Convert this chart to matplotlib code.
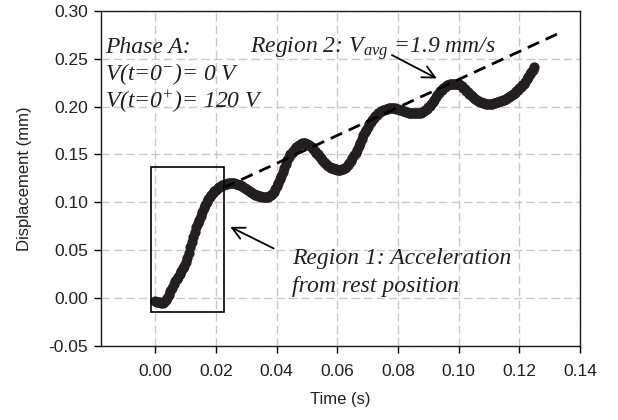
import matplotlib
matplotlib.use("Agg")
import matplotlib.pyplot as plt
from matplotlib.patches import Rectangle

time_s = [
    0.0000, 0.0005, 0.0010, 0.0015, 0.0020, 0.0025, 0.0030, 0.0035, 0.0040, 0.0045,
    0.0050, 0.0055, 0.0060, 0.0065, 0.0070, 0.0075, 0.0080, 0.0085, 0.0090, 0.0095,
    0.0100, 0.0105, 0.0110, 0.0115, 0.0120, 0.0125, 0.0130, 0.0135, 0.0140, 0.0145,
    0.0150, 0.0155, 0.0160, 0.0165, 0.0170, 0.0175, 0.0180, 0.0185, 0.0190, 0.0195,
    0.0200, 0.0205, 0.0210, 0.0215, 0.0220, 0.0225, 0.0230, 0.0235, 0.0240, 0.0245,
    0.0250, 0.0255, 0.0260, 0.0265, 0.0270, 0.0275, 0.0280, 0.0285, 0.0290, 0.0295,
    0.0300, 0.0305, 0.0310, 0.0315, 0.0320, 0.0325, 0.0330, 0.0335, 0.0340, 0.0345,
    0.0350, 0.0355, 0.0360, 0.0365, 0.0370, 0.0375, 0.0380, 0.0385, 0.0390, 0.0395,
    0.0400, 0.0405, 0.0410, 0.0415, 0.0420, 0.0425, 0.0430, 0.0435, 0.0440, 0.0445,
    0.0450, 0.0455, 0.0460, 0.0465, 0.0470, 0.0475, 0.0480, 0.0485, 0.0490, 0.0495,
    0.0500, 0.0505, 0.0510, 0.0515, 0.0520, 0.0525, 0.0530, 0.0535, 0.0540, 0.0545,
    0.0550, 0.0555, 0.0560, 0.0565, 0.0570, 0.0575, 0.0580, 0.0585, 0.0590, 0.0595,
    0.0600, 0.0605, 0.0610, 0.0615, 0.0620, 0.0625, 0.0630, 0.0635, 0.0640, 0.0645,
    0.0650, 0.0655, 0.0660, 0.0665, 0.0670, 0.0675, 0.0680, 0.0685, 0.0690, 0.0695,
    0.0700, 0.0705, 0.0710, 0.0715, 0.0720, 0.0725, 0.0730, 0.0735, 0.0740, 0.0745,
    0.0750, 0.0755, 0.0760, 0.0765, 0.0770, 0.0775, 0.0780, 0.0785, 0.0790, 0.0795,
    0.0800, 0.0805, 0.0810, 0.0815, 0.0820, 0.0825, 0.0830, 0.0835, 0.0840, 0.0845,
    0.0850, 0.0855, 0.0860, 0.0865, 0.0870, 0.0875, 0.0880, 0.0885, 0.0890, 0.0895,
    0.0900, 0.0905, 0.0910, 0.0915, 0.0920, 0.0925, 0.0930, 0.0935, 0.0940, 0.0945,
    0.0950, 0.0955, 0.0960, 0.0965, 0.0970, 0.0975, 0.0980, 0.0985, 0.0990, 0.0995,
    0.1000, 0.1005, 0.1010, 0.1015, 0.1020, 0.1025, 0.1030, 0.1035, 0.1040, 0.1045,
    0.1050, 0.1055, 0.1060, 0.1065, 0.1070, 0.1075, 0.1080, 0.1085, 0.1090, 0.1095,
    0.1100, 0.1105, 0.1110, 0.1115, 0.1120, 0.1125, 0.1130, 0.1135, 0.1140, 0.1145,
    0.1150, 0.1155, 0.1160, 0.1165, 0.1170, 0.1175, 0.1180, 0.1185, 0.1190, 0.1195,
    0.1200, 0.1205, 0.1210, 0.1215, 0.1220, 0.1225, 0.1230, 0.1235, 0.1240, 0.1245,
    0.1250]

displacement_mm = [
    -0.003, -0.0035, -0.004, -0.0045, -0.005, -0.005, -0.004, -0.002, 0.000, 0.003,
    0.007, 0.011, 0.015, 0.018, 0.020, 0.022, 0.025, 0.028, 0.031, 0.034,
    0.038, 0.042, 0.047, 0.053, 0.059, 0.064, 0.069, 0.074, 0.078, 0.082,
    0.086, 0.090, 0.094, 0.097, 0.100, 0.103, 0.106, 0.108, 0.110, 0.112,
    0.113, 0.115, 0.116, 0.117, 0.118, 0.1185, 0.119, 0.1195, 0.120, 0.120,
    0.120, 0.120, 0.120, 0.1195, 0.119, 0.1185, 0.118, 0.117, 0.116, 0.115,
    0.114, 0.113, 0.112, 0.111, 0.110, 0.109, 0.108, 0.1075, 0.107, 0.1065,
    0.106, 0.106, 0.106, 0.106, 0.106, 0.107, 0.108, 0.109, 0.111, 0.114,
    0.117, 0.120, 0.124, 0.128, 0.132, 0.136, 0.140, 0.144, 0.147, 0.150,
    0.152, 0.154, 0.156, 0.158, 0.159, 0.160, 0.161, 0.1615, 0.162, 0.162,
    0.161, 0.160, 0.159, 0.158, 0.156, 0.154, 0.152, 0.150, 0.148, 0.146,
    0.144, 0.142, 0.141, 0.139, 0.138, 0.137, 0.136, 0.1355, 0.135, 0.1345,
    0.134, 0.134, 0.134, 0.1345, 0.135, 0.136, 0.137, 0.139, 0.141, 0.143,
    0.146, 0.149, 0.152, 0.155, 0.159, 0.162, 0.166, 0.170, 0.173, 0.176,
    0.179, 0.182, 0.184, 0.186, 0.188, 0.190, 0.191, 0.193, 0.194, 0.195,
    0.196, 0.1965, 0.197, 0.1975, 0.198, 0.198, 0.198, 0.198, 0.198, 0.1975,
    0.197, 0.1965, 0.196, 0.1955, 0.195, 0.1945, 0.194, 0.1935, 0.193, 0.193,
    0.193, 0.193, 0.193, 0.193, 0.193, 0.1935, 0.194, 0.195, 0.196, 0.1975,
    0.199, 0.201, 0.203, 0.205, 0.207, 0.2095, 0.212, 0.214, 0.216, 0.2175,
    0.219, 0.2205, 0.222, 0.2225, 0.223, 0.2235, 0.224, 0.224, 0.224, 0.2235,
    0.223, 0.222, 0.221, 0.2195, 0.218, 0.2165, 0.215, 0.2135, 0.212, 0.2105,
    0.209, 0.208, 0.207, 0.206, 0.205, 0.2045, 0.204, 0.2035, 0.203, 0.203,
    0.203, 0.203, 0.203, 0.2035, 0.204, 0.2045, 0.205, 0.2055, 0.206, 0.2065,
    0.207, 0.208, 0.209, 0.210, 0.211, 0.212, 0.213, 0.2145, 0.216, 0.2175,
    0.219, 0.2205, 0.222, 0.224, 0.226, 0.2285, 0.231, 0.2335, 0.236, 0.2385,
    0.241]

# Average-velocity trend line (Region 2)
trend_t = [0.0224, 0.1334]
trend_d = [0.115, 0.277]

# Region 1 box corners
box_t = [-0.0013, 0.0225]
box_d = [-0.0143, 0.1364]

x_ticks = [0.00, 0.02, 0.04, 0.06, 0.08, 0.10, 0.12, 0.14]
y_ticks = [-0.05, 0.00, 0.05, 0.10, 0.15, 0.20, 0.25, 0.30]

plt.rcParams['font.family'] = ['Liberation Sans', 'DejaVu Sans']
plt.rcParams['mathtext.fontset'] = 'custom'
plt.rcParams['mathtext.rm'] = 'Liberation Serif:italic'
plt.rcParams['mathtext.it'] = 'Liberation Serif:italic'

fig = plt.figure(figsize=(6.18, 4.20), dpi=100)
ax = fig.add_axes([0.163, 0.176, 0.7755, 0.7985])

ink = '#231f20'
ax.plot(time_s, displacement_mm, linestyle='none', marker='o', markersize=7.4,
        color=ink, markeredgewidth=0, zorder=4)
ax.plot(trend_t, trend_d, color='black', linewidth=2.0, dashes=(4.5, 2.6), zorder=5)

ax.add_patch(Rectangle((box_t[0], box_d[0]), box_t[1] - box_t[0], box_d[1] - box_d[0],
                       fill=False, edgecolor='black', linewidth=1.2, zorder=6))

ax.set_xlim(-0.018, 0.14)
ax.set_ylim(-0.05, 0.30)
ax.set_xticks(x_ticks)
ax.set_yticks(y_ticks)
ax.set_xticklabels([f"{v:.2f}" for v in x_ticks])
ax.set_yticklabels([f"{v:.2f}" for v in y_ticks])
ax.tick_params(axis='both', direction='out', length=5, width=1, labelsize=12.5,
               colors='black', labelcolor=ink, pad=4)
ax.tick_params(axis='x', pad=8)
for s in ax.spines.values():
    s.set_linewidth(1.0)
    s.set_color('#1a1a1a')

ax.grid(True, color='#c8c8c8', linestyle=(0, (6, 3)), linewidth=1.0)
ax.set_axisbelow(True)

ax.set_xlabel('Time (s)', fontsize=12, labelpad=9, color=ink)
ax.set_ylabel('Displacement (mm)', fontsize=12, labelpad=12, color=ink)

tfont = dict(family='Liberation Serif', style='italic', fontsize=17, color=ink)
ax.text(-0.0165, 0.2557, 'Phase A:', va='baseline', ha='left', **tfont)
ax.text(-0.0165, 0.2276, 'V(t=0$^{-}$)= 0 V', va='baseline', ha='left', **tfont)
ax.text(-0.0165, 0.1985, 'V(t=0$^{+}$)= 120 V', va='baseline', ha='left', **tfont)
ax.text(0.0311, 0.2557, 'Region 2: V$_{avg}$ =1.9 mm/s', va='baseline', ha='left', **tfont)
ax.text(0.045, 0.0352, 'Region 1: Acceleration', va='baseline', ha='left', **tfont)
ax.text(0.045, 0.0066, 'from rest position', va='baseline', ha='left', **tfont)

arrow = dict(arrowstyle='->', color='black', linewidth=1.3, mutation_scale=22,
             shrinkA=0, shrinkB=0)
ax.annotate('', xy=(0.0928, 0.2293), xytext=(0.0780, 0.2537), arrowprops=arrow, zorder=7)
ax.annotate('', xy=(0.0247, 0.0744), xytext=(0.0390, 0.0519), arrowprops=arrow, zorder=7)

fig.savefig('out.png', dpi=100)
